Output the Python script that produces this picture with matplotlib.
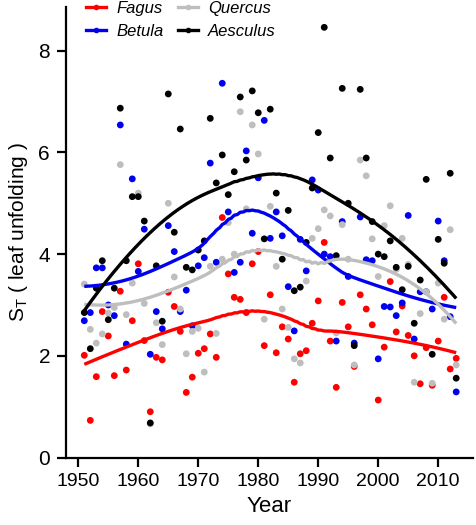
import numpy as np
import matplotlib
matplotlib.use("Agg")
import matplotlib.pyplot as plt
from matplotlib.lines import Line2D

plt.rcParams['font.family'] = ['Liberation Sans', 'DejaVu Sans']

years = list(range(1951, 2014))

fagus = [2.01, 0.73, 1.59, 2.87, 2.39, 1.61, 3.27, 1.72, 2.69, 3.81,
         2.30, 0.90, 1.97, 1.92, 3.25, 2.97, 2.48, 1.28, 1.58, 2.05,
         2.14, 2.43, 1.97, 4.72, 3.61, 3.15, 3.11, 2.85, 3.81, 4.05,
         2.20, 3.20, 2.06, 2.57, 2.33, 1.48, 2.04, 2.10, 2.64, 3.08,
         4.23, 2.29, 1.38, 3.05, 2.57, 1.79, 3.20, 2.92, 2.61, 1.13,
         2.17, 3.46, 2.47, 2.98, 2.40, 2.00, 1.45, 2.16, 1.42, 2.29,
         3.15, 1.74, 1.95]

betula = [2.69, 2.85, 3.73, 3.73, 3.00, 2.79, 6.54, 2.23, 5.48, 3.66,
          4.49, 2.03, 2.87, 2.53, 4.56, 4.05, 2.87, 3.29, 2.59, 3.77,
          3.93, 5.79, 3.84, 7.36, 4.83, 3.64, 3.84, 6.03, 4.41, 5.50,
          6.63, 4.31, 4.83, 4.36, 3.36, 2.49, 4.29, 3.67, 5.46, 5.26,
          4.00, 3.95, 2.29, 4.64, 3.56, 2.25, 4.73, 3.89, 3.87, 1.94,
          2.97, 2.96, 2.79, 3.04, 4.76, 2.33, 3.26, 3.26, 2.92, 4.65,
          3.87, 2.77, 1.29]

quercus = [3.41, 2.52, 2.25, 2.43, 2.84, 2.95, 5.76, 2.81, 3.43, 5.20,
           3.03, 0.66, 2.65, 2.22, 5.00, 3.55, 2.92, 2.04, 2.48, 2.54,
           1.68, 3.76, 2.44, 3.90, 4.62, 4.00, 6.80, 4.89, 6.54, 5.97,
           2.72, 4.94, 3.76, 2.92, 2.56, 1.94, 1.86, 3.47, 4.31, 4.50,
           4.87, 4.75, 2.45, 4.58, 3.90, 1.82, 5.85, 5.54, 4.30, 3.56,
           4.56, 4.95, 3.70, 4.31, 3.80, 1.48, 2.83, 3.26, 1.46, 3.43,
           2.72, 4.48, 1.82]

aesculus = [2.85, 2.14, 3.33, 3.87, 2.71, 3.33, 6.87, 3.87, 5.13, 5.13,
            4.65, 0.68, 3.77, 2.68, 7.15, 4.43, 6.46, 3.74, 3.69, 4.08,
            4.26, 6.67, 5.40, 5.95, 5.17, 5.62, 7.09, 5.85, 7.21, 6.78,
            4.30, 6.85, 5.20, 3.90, 4.86, 3.28, 3.35, 4.23, 5.30, 6.39,
            8.46, 5.89, 3.97, 7.26, 5.00, 2.20, 7.24, 5.89, 4.64, 4.00,
            3.95, 4.26, 3.74, 3.30, 3.76, 2.64, 3.49, 5.47, 2.03, 4.29,
            3.82, 5.59, 1.56]

species = ["Fagus", "Betula", "Quercus", "Aesculus"]
series = [fagus, betula, quercus, aesculus]
colors = ["#FF0000", "#0000EE", "#BEBEBE", "#000000"]
spans = [0.7, 0.65, 0.7, 0.8]


def loess(x, y, xg, span, deg=2):
    x = np.asarray(x, float)
    y = np.asarray(y, float)
    n = len(x)
    q = int(np.ceil(span * n))
    out = []
    for x0 in xg:
        d = np.abs(x - x0)
        h = np.sort(d)[q - 1]
        w = np.clip(1 - (d / h) ** 3, 0, None) ** 3
        coef = np.polyfit(x - x0, y, deg, w=np.sqrt(w))
        out.append(coef[-1])
    return np.array(out)


fig = plt.figure(figsize=(4.76, 5.25), dpi=100)
ax = fig.add_axes([66 / 476, 1 - 457.5 / 525, (473 - 66) / 476, (457.5 - 7) / 525])

yrs = np.array(years)
for vals, c in zip(series, colors):
    ax.scatter(yrs, vals, s=24, color=c, edgecolors='none', zorder=2)

xg = np.linspace(years[0], years[-1], 300)
for vals, c, sp in zip(series, colors, spans):
    ax.plot(xg, loess(yrs, vals, xg, sp), color=c, lw=2.4, zorder=3,
            solid_capstyle='butt')

ax.set_xlim(1947.95, 2015.8)
ax.set_ylim(0, 8.86)
ax.set_xticks([1950, 1960, 1970, 1980, 1990, 2000, 2010])
ax.set_yticks([0, 2, 4, 6, 8])
for s in ['top', 'right']:
    ax.spines[s].set_visible(False)
for s in ['left', 'bottom']:
    ax.spines[s].set_linewidth(1.6)
ax.tick_params(axis='both', direction='out', length=6.5, width=1.6)
ax.tick_params(axis='x', labelsize=14, pad=5)
ax.tick_params(axis='y', labelsize=15, pad=5)
ax.set_xlabel("Year", fontsize=16, labelpad=4)
ax.set_ylabel(r"S$_\mathregular{T}$ ( leaf unfolding )", fontsize=15, labelpad=6)

handles = [Line2D([], [], color=c, lw=2.4, marker='o', markersize=3)
           for c in colors]
leg = fig.legend(handles, species, loc='upper left',
                 bbox_to_anchor=(86 / 476, 1 - 1 / 525), ncol=2, frameon=False,
                 prop={'style': 'italic', 'size': 12}, handlelength=1.2,
                 handletextpad=0.6, columnspacing=0.9, labelspacing=0.5,
                 borderpad=0, borderaxespad=0)

fig.savefig("out.png", dpi=100)
